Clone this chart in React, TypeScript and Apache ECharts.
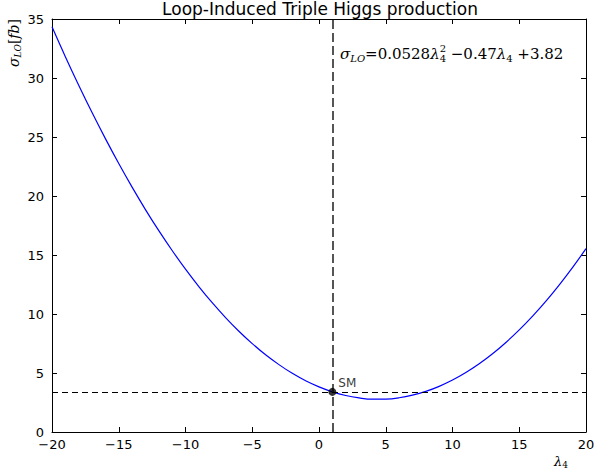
import React, { useEffect, useRef } from "react";
import * as echarts from "echarts";

const lambdaValues = [
  -20, -19, -18, -17, -16, -15, -14, -13, -12, -11, -10, -9, -8, -7, -6, -5, -4, -3, -2, -1,
  0, 1, 2, 3, 4, 5, 6, 7, 8, 9, 10, 11, 12, 13, 14, 15, 16, 17, 18, 19, 20,
];
const sigmaValues = [
  34.34, 31.81, 29.39, 27.07, 24.86, 22.75, 20.75, 18.85, 17.06, 15.38, 13.8, 12.33, 10.96,
  9.7, 8.54, 7.49, 6.54, 5.71, 4.97, 4.34, 3.82, 3.4, 3.09, 2.89, 2.78, 2.79, 2.9, 3.12, 3.44,
  3.87, 4.4, 5.04, 5.78, 6.63, 7.59, 8.65, 9.82, 11.09, 12.47, 13.95, 15.54,
];
const smPoint = [1, 3.4];
const smLabel = "SM";
const titleText = "Loop-Induced Triple Higgs production";

const SANS = "DejaVu Sans";
const SERIF = "DejaVu Serif";

type Piece = { text: string; size: number; italic?: boolean; dy: number; stackNext?: boolean };

function measure(text: string, size: number, italic?: boolean) {
  const t = new echarts.graphic.Text({
    style: { text, fontSize: size, fontFamily: SERIF, fontStyle: italic ? "italic" : "normal" },
  });
  return t.getBoundingRect().width;
}

function layoutPieces(pieces: Piece[], x0: number, y0: number) {
  const out: any[] = [];
  let x = x0;
  for (let i = 0; i < pieces.length; i++) {
    const p = pieces[i];
    out.push({
      type: "text",
      x,
      y: y0 + p.dy,
      silent: true,
      style: {
        text: p.text,
        fontFamily: SERIF,
        fontSize: p.size,
        fontStyle: p.italic ? "italic" : "normal",
        fill: "#000",
        align: "left",
        verticalAlign: "middle",
      },
    });
    if (!p.stackNext) x += measure(p.text, p.size, p.italic);
  }
  return out;
}

export default function App() {
  const ref = useRef<HTMLDivElement>(null);
  useEffect(() => {
    if (!ref.current) return;
    const chart = echarts.init(ref.current, null, { renderer: "svg" });
    const gridL = 52, gridR = 8, gridT = 19, gridB = 41;
    const fmt = (v: number) => String(v).replace("-", "\u2212");
    const axisCommon = {
      type: "value" as const,
      axisLine: { show: true, onZero: false, lineStyle: { color: "#000", width: 1 } },
      splitLine: { show: false },
      axisTick: { show: true, inside: true, length: 5, lineStyle: { color: "#000" } },
    };
    const B = 15, S = 10;
    const annotation: Piece[] = [
      { text: "σ", size: B, italic: true, dy: 0 },
      { text: "LO", size: S, italic: true, dy: 4 },
      { text: "=0.0528", size: B, dy: 0 },
      { text: "λ", size: B, italic: true, dy: 0 },
      { text: "2", size: S, dy: -6, stackNext: true },
      { text: "4", size: S, dy: 4 },
      { text: " −0.47", size: B, dy: 0 },
      { text: "λ", size: B, italic: true, dy: 0 },
      { text: "4", size: S, dy: 4 },
      { text: " +3.82", size: B, dy: 0 },
    ];
    chart.setOption({
      animation: false,
      backgroundColor: "#fff",
      grid: { left: gridL, right: gridR, top: gridT, bottom: gridB, outerBoundsMode: "none", containLabel: false },
      xAxis: [
        {
          ...axisCommon,
          min: -20, max: 20, interval: 5,
          axisLabel: { color: "#000", fontFamily: SANS, fontSize: 13, margin: 6, formatter: fmt },
        },
        {
          ...axisCommon,
          position: "top",
          min: -20, max: 20, interval: 5,
          axisLabel: { show: false },
        },
      ],
      yAxis: [
        {
          ...axisCommon,
          min: 0, max: 35, interval: 5,
          axisLabel: { color: "#000", fontFamily: SANS, fontSize: 13, margin: 8, formatter: fmt },
        },
        {
          ...axisCommon,
          position: "right",
          min: 0, max: 35, interval: 5,
          axisLabel: { show: false },
        },
      ],
      series: [
        {
          type: "line",
          data: lambdaValues.map((x, i) => [x, sigmaValues[i]]),
          smooth: 0.4,
          showSymbol: false,
          symbol: "none",
          lineStyle: { color: "#0000ff", width: 1.2 },
          z: 3,
          markLine: {
            silent: true,
            symbol: "none",
            label: { show: false },
            data: [
              { xAxis: smPoint[0], lineStyle: { color: "#555", width: 2, type: [9, 4] } },
              { yAxis: smPoint[1], lineStyle: { color: "#000", width: 1, type: [6, 4] } },
            ],
          },
        },
        {
          type: "scatter",
          data: [smPoint],
          symbolSize: 8,
          itemStyle: { color: "#000" },
          z: 5,
          label: {
            show: true,
            position: "right",
            distance: 2,
            offset: [0, -9],
            formatter: smLabel,
            color: "#000",
            fontFamily: SANS,
            fontSize: 12,
          },
        },
      ],
      graphic: [
        {
          type: "text",
          x: 320,
          y: 0,
          style: {
            text: titleText,
            fontFamily: SANS,
            fontSize: 17,
            fill: "#000",
            align: "center",
            verticalAlign: "top",
          },
        },
        {
          type: "text",
          x: 14,
          y: 43,
          rotation: Math.PI / 2,
          style: {
            text: "{i|σ}{s|LO}{n|[}{i|fb}{n|]}",
            align: "center",
            verticalAlign: "middle",
            rich: {
              i: { fontFamily: SERIF, fontStyle: "italic", fontSize: 14, fill: "#000", lineHeight: 17 },
              n: { fontFamily: SERIF, fontSize: 14, fill: "#000", lineHeight: 17 },
              s: { fontFamily: SERIF, fontStyle: "italic", fontSize: 9, fill: "#000", lineHeight: 8, verticalAlign: "bottom" },
            },
          },
        },
        {
          type: "text",
          x: 554,
          y: 461,
          style: {
            text: "{i|λ}{s|4}",
            align: "left",
            verticalAlign: "middle",
            rich: {
              i: { fontFamily: SERIF, fontStyle: "italic", fontSize: 13, fill: "#000", lineHeight: 16 },
              s: { fontFamily: SERIF, fontSize: 9, fill: "#000", lineHeight: 8, verticalAlign: "bottom" },
            },
          },
        },
        ...layoutPieces(annotation, 340, 54),
      ],
    });
    return () => chart.dispose();
  }, []);
  return <div ref={ref} style={{ width: 594, height: 473, position: "absolute", left: 0, top: 0 }} />;
}
